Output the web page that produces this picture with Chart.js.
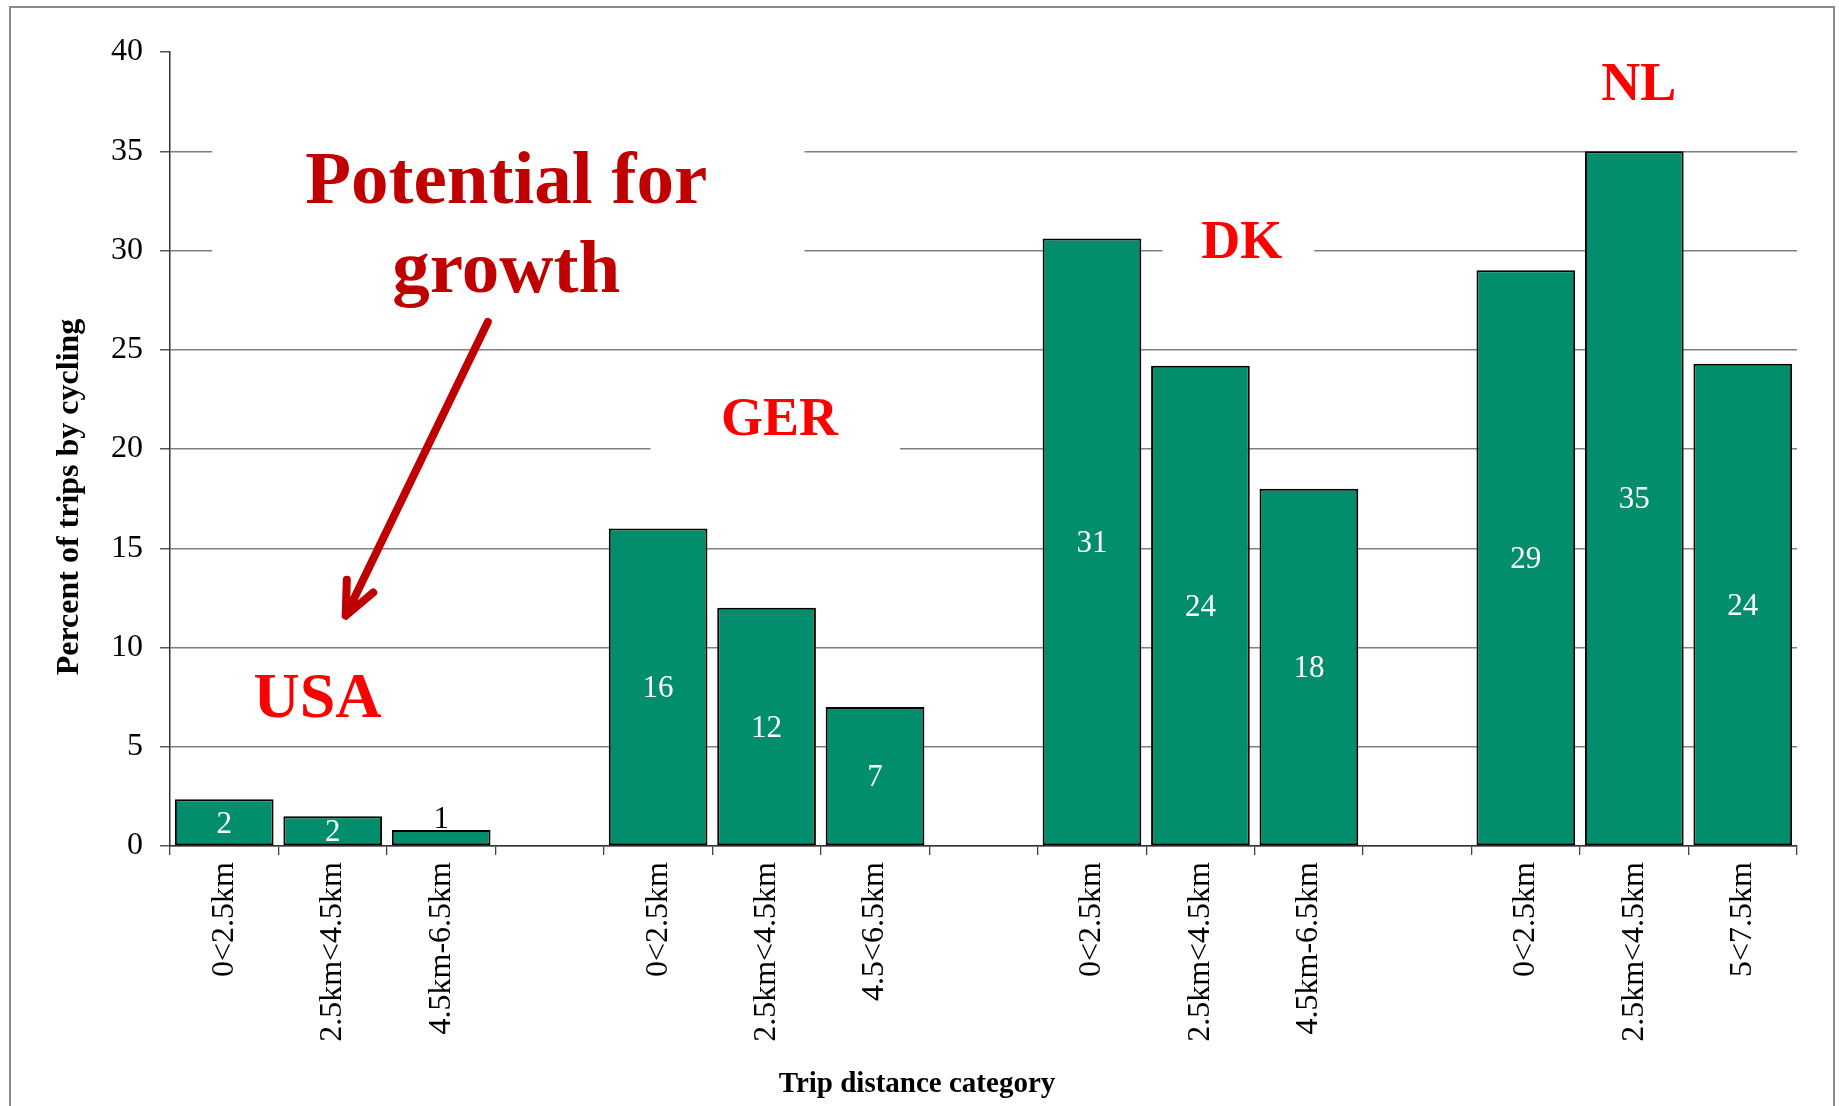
<!DOCTYPE html>
<html>
<head>
<meta charset="utf-8">
<title>Percent of trips by cycling</title>
<script src="https://cdn.jsdelivr.net/npm/chart.js@4.4.1/dist/chart.umd.min.js"></script>
<style>
  html, body { margin: 0; padding: 0; background: #fff; }
  #wrap { position: relative; width: 1839px; height: 1106px; }
</style>
</head>
<body>
<div id="wrap"><canvas id="chart"></canvas></div>
<script>
// distance bands per country; the blank slots separate the country groups
const categories = [
  '0<2.5km', '2.5km<4.5km', '4.5km-6.5km', '',
  '0<2.5km', '2.5km<4.5km', '4.5<6.5km', '',
  '0<2.5km', '2.5km<4.5km', '4.5km-6.5km', '',
  '0<2.5km', '2.5km<4.5km', '5<7.5km'
];
const countries = ['USA', 'GER', 'DK', 'NL'];
const usa = [2.35, 1.5, 0.8];
const ger = [16, 12, 7];
const dk = [30.6, 24.2, 18];
const nl = [29, 35, 24.3];
const yTicks = [0, 5, 10, 15, 20, 25, 30, 35, 40];

const shares = [...usa, null, ...ger, null, ...dk, null, ...nl];

const SERIF = "'Liberation Serif', 'Times New Roman', Times, serif";
const GREEN = '#028E6D';
const DARK_RED = '#C00000';
const RED = '#FF0000';

// callouts, placed in axis units (category index, percent)
const notes = [
  { text: 'Potential for', idx: 2.6, val: 32.4, size: 75, color: DARK_RED },
  { text: 'growth', idx: 2.6, val: 27.9, size: 75, color: DARK_RED },
  { text: countries[0], idx: 0.86, val: 6.5, size: 64, color: RED },
  { text: countries[1], idx: 5.12, val: 20.7, size: 54, color: RED },
  { text: countries[2], idx: 9.38, val: 29.6, size: 54, color: RED },
  { text: countries[3], idx: 13.04, val: 37.6, size: 54, color: RED }
];
// white text boxes that hide the gridlines behind the callouts
const masks = [
  { x0: -0.11, x1: 5.35, y0: 36.3, y1: 26.5 },
  { x0: 3.93, x1: 6.23, y0: 23.0, y1: 19.7 },
  { x0: 8.65, x1: 10.05, y0: 31.8, y1: 29.0 }
];
const arrow = { from: { idx: 2.43, val: 26.4 }, to: { idx: 1.12, val: 11.6 } };

const calloutPlugin = {
  id: 'callouts',
  beforeDraw(chart) {
    const { ctx } = chart;
    ctx.save();
    ctx.strokeStyle = '#8a8a8a';
    ctx.lineWidth = 2;
    ctx.strokeRect(10, 7, 1824, 1140);
    ctx.restore();
  },
  beforeDatasetsDraw(chart) {
    const { ctx, scales: { x, y } } = chart;
    ctx.save();
    ctx.fillStyle = '#fff';
    masks.forEach(m => {
      const px0 = x.getPixelForValue(m.x0), px1 = x.getPixelForValue(m.x1);
      const py0 = y.getPixelForValue(m.y0), py1 = y.getPixelForValue(m.y1);
      ctx.fillRect(px0, py0, px1 - px0, py1 - py0);
    });

    ctx.textAlign = 'center';
    ctx.textBaseline = 'alphabetic';
    notes.forEach(n => {
      ctx.font = `bold ${n.size}px ${SERIF}`;
      ctx.fillStyle = n.color;
      ctx.fillText(n.text, x.getPixelForValue(n.idx), y.getPixelForValue(n.val));
    });

    // arrow pointing down at the USA bars
    const x0 = x.getPixelForValue(arrow.from.idx), y0 = y.getPixelForValue(arrow.from.val);
    const x1 = x.getPixelForValue(arrow.to.idx), y1 = y.getPixelForValue(arrow.to.val);
    const back = Math.atan2(y0 - y1, x0 - x1);
    const head = 36, spread = 0.42;
    ctx.strokeStyle = DARK_RED;
    ctx.lineWidth = 8;
    ctx.lineCap = 'round';
    ctx.lineJoin = 'round';
    ctx.beginPath();
    ctx.moveTo(x0, y0);
    ctx.lineTo(x1, y1);
    ctx.moveTo(x1 + head * Math.cos(back - spread), y1 + head * Math.sin(back - spread));
    ctx.lineTo(x1, y1);
    ctx.lineTo(x1 + head * Math.cos(back + spread), y1 + head * Math.sin(back + spread));
    ctx.stroke();
    ctx.restore();
  },
  afterDatasetsDraw(chart) {
    const { ctx } = chart;
    const meta = chart.getDatasetMeta(0);
    const size = 31;
    ctx.save();
    ctx.font = `${size}px ${SERIF}`;
    ctx.textAlign = 'center';
    ctx.textBaseline = 'alphabetic';
    meta.data.forEach((bar, i) => {
      const v = shares[i];
      if (v == null) return;
      const label = String(Math.round(v));
      const h = bar.base - bar.y;
      if (h > 24) {
        ctx.fillStyle = '#fff';
        ctx.fillText(label, bar.x, (bar.y + bar.base) / 2 + size * 0.33);
      } else {
        ctx.fillStyle = '#000';
        ctx.fillText(label, bar.x, bar.y - 2);
      }
    });
    ctx.restore();
  },
  afterDraw(chart) {
    const { ctx, chartArea } = chart;
    ctx.save();
    ctx.fillStyle = '#000';
    ctx.font = `bold 32px ${SERIF}`;
    ctx.textAlign = 'center';
    ctx.textBaseline = 'middle';
    ctx.translate(chartArea.left - 100, (chartArea.top + chartArea.bottom) / 2 + 48);
    ctx.rotate(-Math.PI / 2);
    ctx.fillText('Percent of trips by cycling', 0, 0);
    ctx.restore();

    ctx.save();
    ctx.fillStyle = '#000';
    ctx.font = `bold 29px ${SERIF}`;
    ctx.textAlign = 'center';
    ctx.textBaseline = 'alphabetic';
    ctx.fillText('Trip distance category', chartArea.left + 747, chartArea.bottom + 246);
    ctx.restore();
  }
};

new Chart(document.getElementById('chart'), {
  type: 'bar',
  data: {
    labels: categories,
    datasets: [{
      data: shares,
      backgroundColor: GREEN,
      borderColor: '#000',
      borderWidth: 2,
      borderSkipped: false,
      categoryPercentage: 1,
      barPercentage: 0.91
    }]
  },
  options: {
    responsive: true,
    maintainAspectRatio: false,
    animation: false,
    devicePixelRatio: 1,
    layout: { padding: { top: 52, right: 42, left: 0, bottom: 0 } },
    plugins: {
      legend: { display: false },
      tooltip: { enabled: false }
    },
    scales: {
      x: {
        offset: true,
        grid: { offset: true, drawOnChartArea: false, tickLength: 9, color: '#444', lineWidth: 1.3 },
        border: { color: '#333', width: 1.5 },
        ticks: {
          autoSkip: false, minRotation: 90, maxRotation: 90, padding: 7,
          color: '#000', font: { family: SERIF, size: 32 }
        },
        afterFit: s => { s.height = 260; }
      },
      y: {
        min: yTicks[0],
        max: yTicks[yTicks.length - 1],
        afterBuildTicks: s => { s.ticks = yTicks.map(v => ({ value: v })); },
        grid: {
          color: c => (c.tick && c.tick.value === yTicks[yTicks.length - 1]) ? 'rgba(0,0,0,0)' : '#808080',
          tickColor: '#555',
          tickLength: 10,
          lineWidth: 1.5
        },
        border: { color: '#333', width: 1.5 },
        ticks: { padding: 17, color: '#000', font: { family: SERIF, size: 32 } },
        afterFit: s => { s.width = 170; }
      }
    }
  },
  plugins: [calloutPlugin]
});
</script>
</body>
</html>
